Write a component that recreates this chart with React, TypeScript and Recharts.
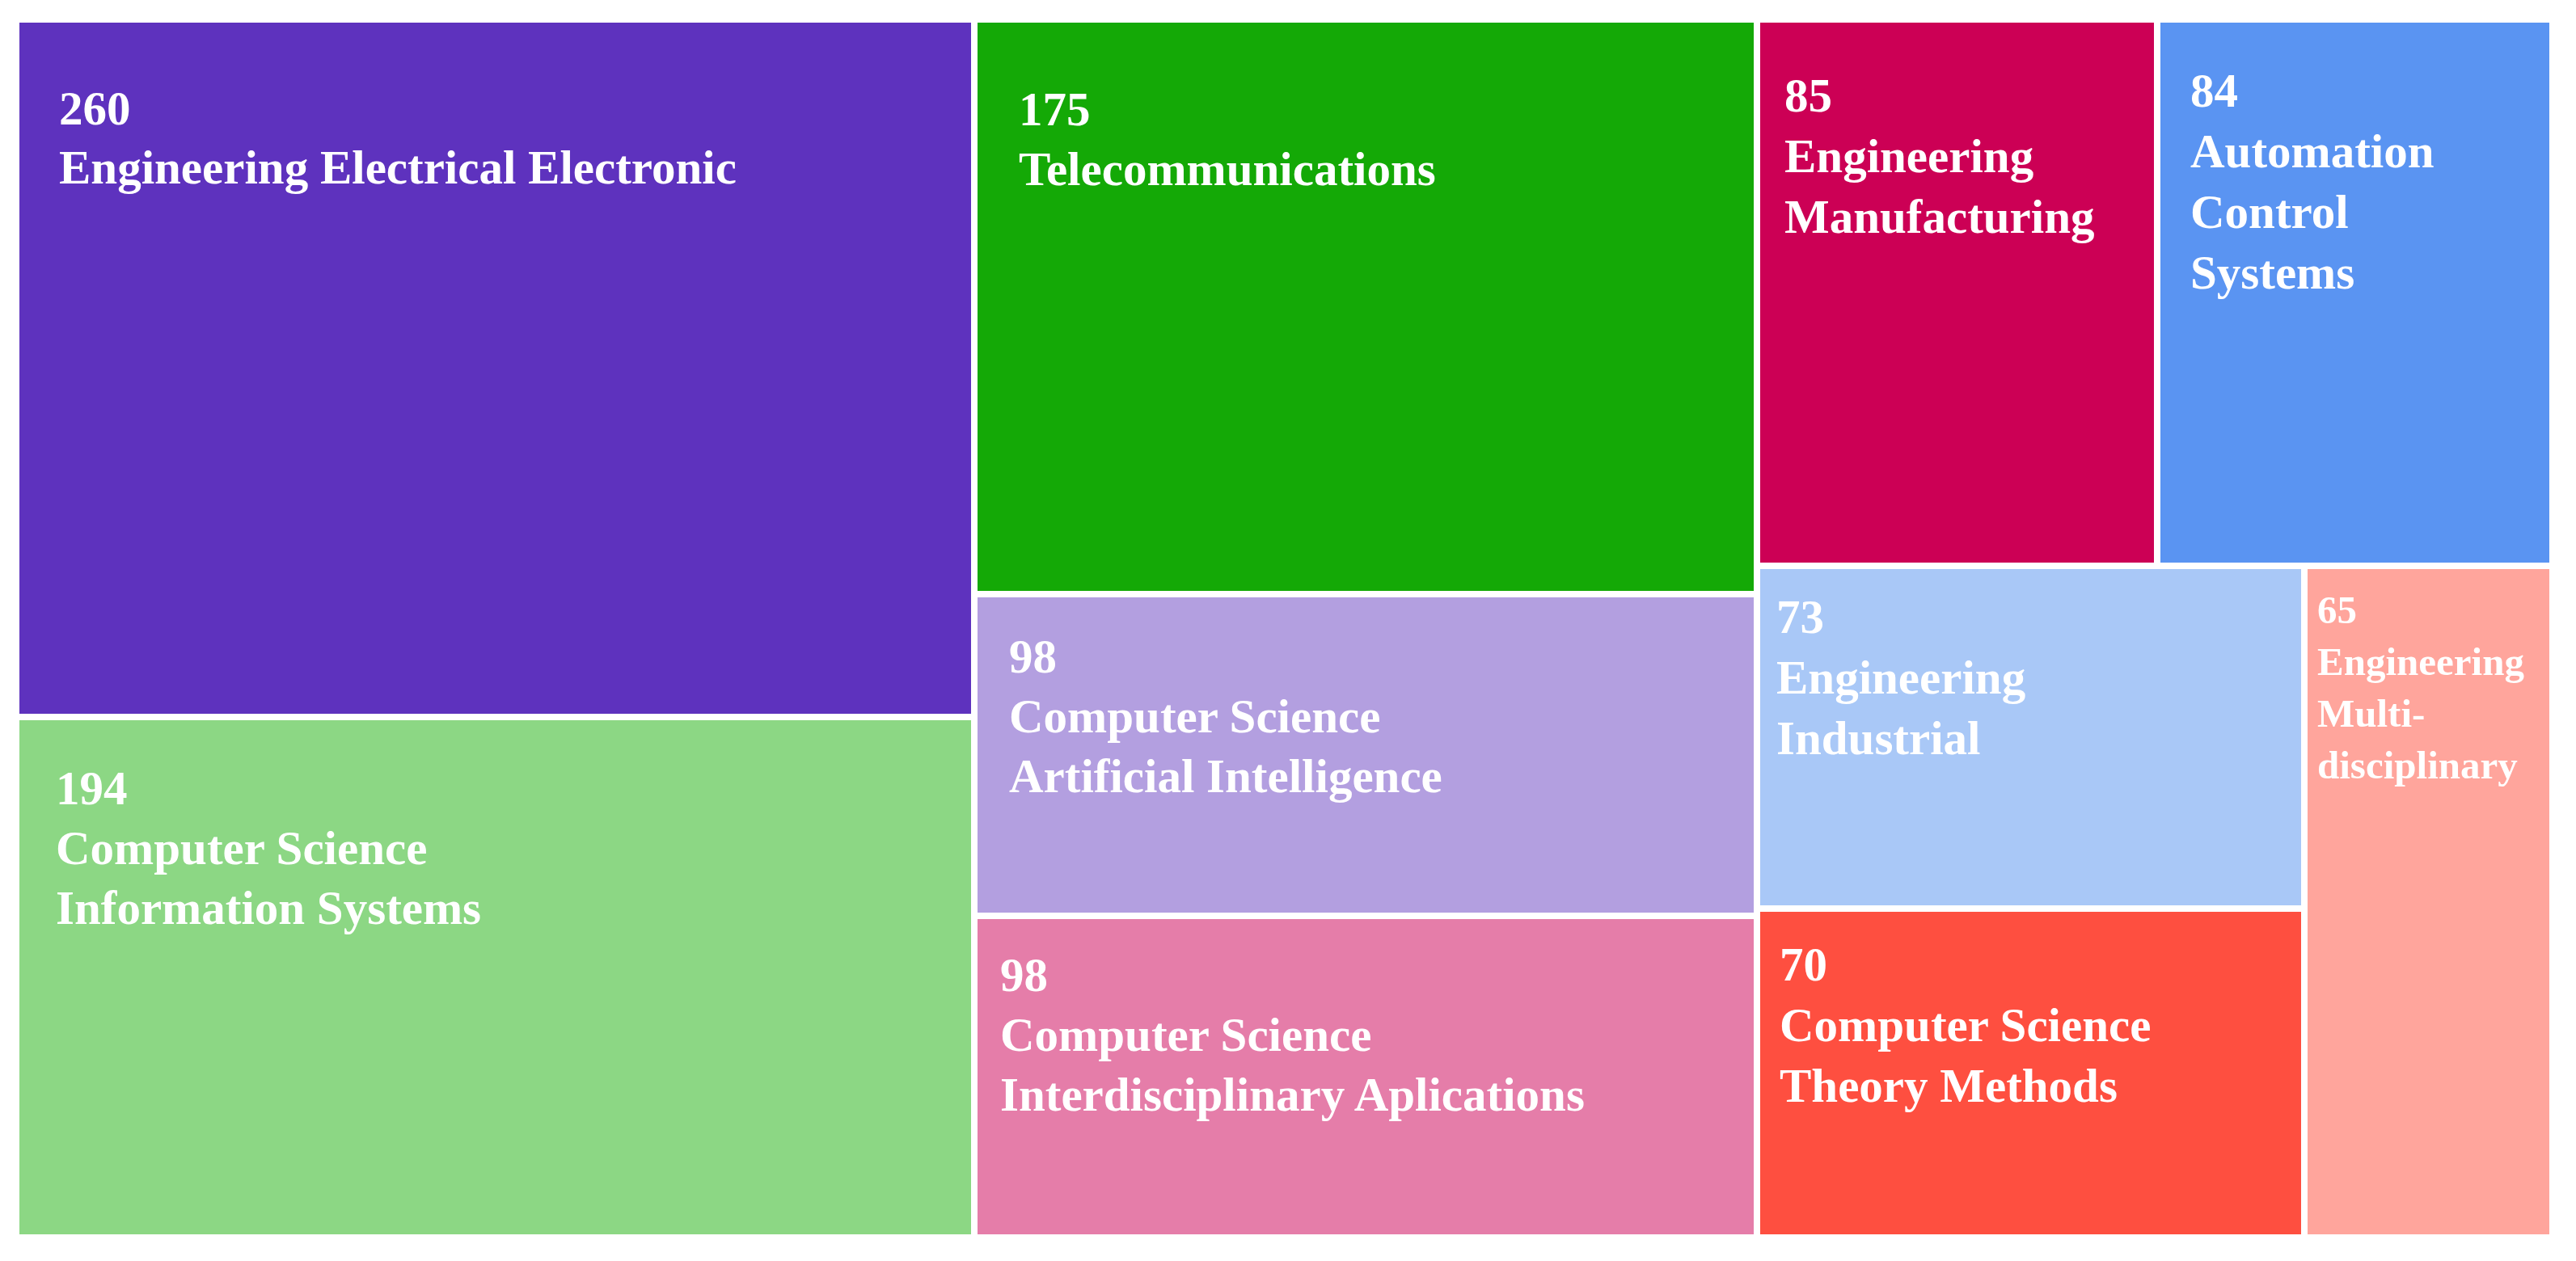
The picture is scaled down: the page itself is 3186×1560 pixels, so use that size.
import { Treemap } from "recharts";

// Web of Science categories and record counts
const CATEGORIES = [
  "Engineering Electrical Electronic",
  "Computer Science Information Systems",
  "Telecommunications",
  "Computer Science Artificial Intelligence",
  "Computer Science Interdisciplinary Aplications",
  "Engineering Manufacturing",
  "Automation Control Systems",
  "Engineering Industrial",
  "Computer Science Theory Methods",
  "Engineering Multidisciplinary",
];
const RECORDS = [260, 194, 175, 98, 98, 85, 84, 73, 70, 65];
const LABEL_LINES = [
  ["Engineering Electrical Electronic"],
  ["Computer Science", "Information Systems"],
  ["Telecommunications"],
  ["Computer Science", "Artificial Intelligence"],
  ["Computer Science", "Interdisciplinary Aplications"],
  ["Engineering", "Manufacturing"],
  ["Automation", "Control", "Systems"],
  ["Engineering", "Industrial"],
  ["Computer Science", "Theory Methods"],
  ["Engineering", "Multi-", "disciplinary"],
];
const COLORS = [
  "#5E32BE",
  "#8CD784",
  "#14A906",
  "#B39FE0",
  "#E57DA9",
  "#CC0055",
  "#5A94F2",
  "#A9C8F7",
  "#FE4F40",
  "#FFA59C",
];

// how the cells are grouped (indices into the arrays above)
const GROUPS: any[] = [[0, 1], [[2, 3], 4], [[5, 6], [[7, 8], 9]]];

// label placement per cell: [dx, dy of first baseline, font size, line step]
const LABEL_POS: number[][] = [
  [49, 126, 59, 73],
  [45, 104, 59, 74],
  [51, 127, 59, 74],
  [39, 93, 59, 74],
  [28, 89, 59, 74],
  [30, 110, 59, 75],
  [37, 104, 59, 75],
  [20, 79, 59, 75],
  [24, 85, 59, 75],
  [12, 67, 49, 64],
];

const GAP = 4;

const build = (n: any): any =>
  typeof n === "number"
    ? { name: CATEGORIES[n], size: RECORDS[n], idx: n }
    : { name: "", children: n.map(build) };

const data = GROUPS.map(build);

const renderCell = (props: any) => {
  const { x, y, width, height, children, idx } = props;
  if ((children && children.length) || idx === undefined) return null;
  const [dx, dy, fs, step] = LABEL_POS[idx];
  const left = x + GAP;
  const top = y + GAP;
  const lines = [String(RECORDS[idx]), ...LABEL_LINES[idx]];
  return (
    <g>
      <rect
        x={left}
        y={top}
        width={width - GAP * 2}
        height={height - GAP * 2}
        fill={COLORS[idx]}
        stroke="none"
      />
      <text
        x={left + dx}
        y={top + dy}
        fill="#ffffff"
        fontFamily="'Liberation Serif', 'Times New Roman', serif"
        fontWeight="bold"
        fontSize={fs}
      >
        {lines.map((l, i) => (
          <tspan key={i} x={left + dx} y={top + dy + i * step}>
            {l}
          </tspan>
        ))}
      </text>
    </g>
  );
};

export default function App() {
  return (
    <div
      style={{
        position: "fixed",
        left: 0,
        top: 0,
        width: 3186,
        height: 1560,
        background: "#ffffff",
      }}
    >
      <div style={{ position: "absolute", left: 20, top: 24 }}>
        <Treemap
          width={3137}
          height={1507}
          data={data}
          dataKey="size"
          aspectRatio={0.01}
          isAnimationActive={false}
          content={renderCell}
        />
      </div>
    </div>
  );
}
